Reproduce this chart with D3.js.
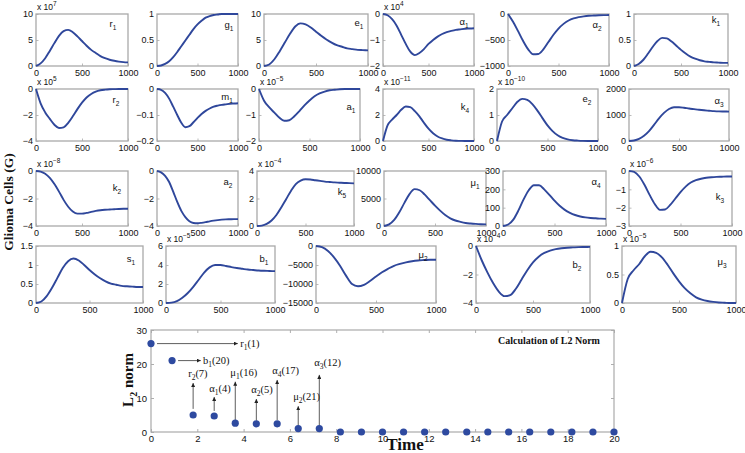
<!DOCTYPE html>
<html><head><meta charset="utf-8">
<script src="https://cdn.jsdelivr.net/npm/d3@7"></script>
<style>
body{margin:0;background:#fff;}
svg{display:block;}
</style></head><body>
<svg id="c" width="745" height="453"></svg>
<script>
// ---------- DATA ----------
const timeSteps = [0,50,100,150,200,250,300,350,400,450,500,550,600,650,700,750,800,850,900,950,1000];
const xTickValues = [0,500,1000];

const r1Vals = [0,0.5,1.5,2.9,4.4,5.8,6.7,6.95,6.5,5.7,4.8,3.9,3.1,2.5,1.9,1.5,1.2,1.0,0.85,0.75,0.7];
const g1Vals = [0,0.01,0.04,0.09,0.17,0.27,0.38,0.49,0.6,0.71,0.8,0.87,0.93,0.96,0.98,0.99,1,1,1,1,1];
const e1Vals = [0,0.3,1.3,2.8,4.5,6.2,7.6,8.2,8.0,7.4,6.6,5.8,5.1,4.5,4.0,3.7,3.4,3.25,3.1,3.05,3.0];
const alpha1Vals = [0,-0.05,-0.2,-0.45,-0.8,-1.15,-1.45,-1.58,-1.5,-1.35,-1.15,-1.0,-0.87,-0.77,-0.7,-0.65,-0.61,-0.59,-0.57,-0.56,-0.55];
const alpha2Vals = [0,-150,-330,-520,-680,-775,-770,-680,-540,-400,-280,-190,-125,-85,-60,-45,-35,-30,-25,-22,-20];
const k1Vals = [0,0.04,0.12,0.24,0.37,0.48,0.54,0.53,0.47,0.39,0.31,0.24,0.18,0.14,0.11,0.09,0.08,0.07,0.065,0.06,0.06];
const r2Vals = [0,-1.1,-1.8,-2.3,-2.75,-3.0,-2.95,-2.6,-2.1,-1.55,-1.05,-0.65,-0.38,-0.2,-0.1,-0.05,-0.02,-0.01,0,0,0];
const m1Vals = [0,-0.003,-0.015,-0.037,-0.068,-0.1,-0.13,-0.147,-0.143,-0.128,-0.111,-0.096,-0.084,-0.075,-0.068,-0.064,-0.061,-0.059,-0.057,-0.056,-0.055];
const a1Vals = [0,-0.45,-0.7,-0.9,-1.1,-1.22,-1.2,-1.05,-0.85,-0.63,-0.44,-0.28,-0.17,-0.1,-0.05,-0.03,-0.01,0,0,0,0];
const k4Vals = [0,1.2,1.65,2.0,2.4,2.65,2.6,2.3,1.9,1.4,0.95,0.6,0.35,0.2,0.1,0.05,0.02,0.01,0,0,0];
const e2Vals = [0,0.75,1.0,1.25,1.5,1.62,1.58,1.42,1.17,0.88,0.6,0.38,0.22,0.12,0.06,0.03,0.015,0.005,0,0,0];
const alpha3Vals = [0,20,80,200,380,620,870,1080,1230,1300,1300,1280,1250,1225,1200,1180,1165,1150,1140,1135,1130];
const k2Vals = [0,-0.05,-0.2,-0.5,-0.95,-1.5,-2.1,-2.6,-2.95,-3.1,-3.1,-3.05,-2.97,-2.9,-2.85,-2.82,-2.8,-2.78,-2.76,-2.75,-2.75];
const a2Vals = [0,-0.1,-0.35,-0.8,-1.5,-2.25,-2.9,-3.35,-3.65,-3.78,-3.8,-3.77,-3.72,-3.66,-3.61,-3.57,-3.54,-3.52,-3.51,-3.5,-3.5];
const k5Vals = [0,0.03,0.15,0.4,0.8,1.35,1.95,2.55,3.05,3.3,3.4,3.38,3.33,3.28,3.23,3.2,3.17,3.15,3.13,3.12,3.1];
const mu1Vals = [0,300,1100,2500,4200,5800,6700,6500,5700,4700,3700,2800,2000,1400,1000,750,550,450,380,330,300];
const alpha4Vals = [0,8,35,85,145,195,222,222,200,170,138,110,88,72,60,52,47,44,42,40,39];
const k3Vals = [0,-0.05,-0.3,-0.75,-1.3,-1.8,-2.12,-2.1,-1.85,-1.5,-1.15,-0.85,-0.63,-0.5,-0.42,-0.37,-0.34,-0.32,-0.31,-0.3,-0.3];
const s1Vals = [0,0.04,0.18,0.4,0.66,0.92,1.1,1.17,1.12,1.0,0.87,0.75,0.65,0.57,0.51,0.48,0.45,0.44,0.43,0.42,0.42];
const b1Vals = [0,0.04,0.2,0.55,1.05,1.7,2.45,3.2,3.75,4.0,4.0,3.9,3.78,3.68,3.6,3.52,3.47,3.42,3.39,3.37,3.35];
const mu2Vals = [0,-300,-1300,-3000,-5200,-7800,-10000,-10600,-10200,-9200,-8000,-6900,-6000,-5200,-4700,-4300,-4000,-3800,-3700,-3620,-3600];
const b2Vals = [0,-1.0,-1.85,-2.6,-3.2,-3.52,-3.45,-3.0,-2.35,-1.7,-1.15,-0.75,-0.48,-0.32,-0.22,-0.16,-0.12,-0.1,-0.08,-0.07,-0.06];
const mu3Vals = [0,0.42,0.57,0.68,0.82,0.9,0.88,0.8,0.67,0.52,0.38,0.26,0.17,0.1,0.06,0.035,0.02,0.01,0.005,0,0];

// panel names: [base, subscript]
const panelNames = [["r","1"],["g","1"],["e","1"],["α","1"],["α","2"],["k","1"],
  ["r","2"],["m","1"],["a","1"],["k","4"],["e","2"],["α","3"],
  ["k","2"],["a","2"],["k","5"],["μ","1"],["α","4"],["k","3"],
  ["s","1"],["b","1"],["μ","2"],["b","2"],["μ","3"]];
const panelSeries = [r1Vals,g1Vals,e1Vals,alpha1Vals,alpha2Vals,k1Vals,
  r2Vals,m1Vals,a1Vals,k4Vals,e2Vals,alpha3Vals,
  k2Vals,a2Vals,k5Vals,mu1Vals,alpha4Vals,k3Vals,
  s1Vals,b1Vals,mu2Vals,b2Vals,mu3Vals];
const panelYTicks = [[0,5,10],[0,0.5,1],[0,5,10],[-2,-1,0],[-1000,-500,0],[0,0.5,1],
  [-4,-2,0],[-0.2,-0.1,0],[-2,-1,0],[0,2,4],[0,1,2],[0,1000,2000],
  [-4,-2,0],[-4,-2,0],[0,2,4],[0,5000,10000],[0,100,200,300],[-3,-2,-1,0],
  [0,0.5,1,1.5],[0,2,4,6],[-15000,-10000,-5000,0],[-4,-2,0],[0,0.5,1]];
const panelExponents = ["7",null,null,"4",null,null,
  "5",null,"-5","-11","-10",null,
  "-8",null,"-4",null,null,"-6",
  null,"-5",null,"-4","-5"];

// L2 norm chart
const l2Time = [0,0.91,1.82,2.73,3.64,4.55,5.45,6.36,7.27,8.18,9.09,10,10.91,11.82,12.73,13.64,14.55,15.45,16.36,17.27,18.18,19.09,20];
const l2Values = [26,21,5,4.7,2.6,2.4,2.4,1.0,1.0,0,0,0,0,0,0,0,0,0,0,0,0,0,0];
const l2XTicks = [0,2,4,6,8,10,12,14,16,18,20];
const l2YTicks = [0,10,20,30];
// annotations: [base, sub, rank]
const annLabels = [["r","1","(1)"],["b","1","(20)"],["r","2","(7)"],["α","1","(4)"],["μ","1","(16)"],
  ["α","2","(5)"],["α","4","(17)"],["μ","2","(21)"],["α","3","(12)"]];
// arrow geometry in data units: [x0,y0,x1,y1]
const annArrows = [[0.26,26,3.75,26],[1.17,21,2.15,21],[1.82,6.8,1.82,14.4],[2.73,6.2,2.73,10.3],
  [3.64,3.0,3.64,14.8],[4.55,3.3,4.55,9.7],[5.45,3.5,5.45,15.3],[6.36,1.5,6.36,7.6],[7.27,1.8,7.27,16.8]];
const annTextPos = [[3.85,26],[2.25,21],[1.82,16.2],[2.73,11.8],[3.64,16.6],[4.55,11.5],[5.45,17.0],[6.36,9.4],[7.27,19.4]];

// ---------- LAYOUT ----------
const rowsY = [[14,66],[89,141],[171,226],[246,303]];
const panelBoxesX = [[36,128],[157,238],[264,368],[383,474],[508,609],[634,728],
  [36,128],[157,238],[259,360],[383,474],[497,598],[629,729],
  [36,128],[157,238],[257,354],[384,486],[503,606],[629,732],
  [36,143],[166,275],[316,436],[476,590],[622,736]];
const panelRow = [0,0,0,0,0,0,1,1,1,1,1,1,2,2,2,2,2,2,3,3,3,3,3];
const labelDy = [13,14,12,11,14,9, 14,11,21,21,13,15, 20,14,24,15,14,29, 16,16,12,22,19];
const labelDx = [-15,-9,-9,-10,-12,-12, -12,-11,-9,-9,-11,-10, -11,-10,-12,-11,-10,-12, -12,-11,-13,-13,-14];

const lineColor = "#2f479b";
const frameColor = "#a9a9a9";
const sans = "'Liberation Sans', Arial, Helvetica, sans-serif";
const serif = "'Liberation Serif', 'Times New Roman', serif";

const svg = d3.select("#c");
svg.append("rect").attr("width",745).attr("height",453).attr("fill","#fff");

function fmt(v){ return String(v).replace("-","−"); }

panelSeries.forEach((vals,i)=>{
  const [x0,x1] = panelBoxesX[i];
  const [y0,y1] = rowsY[panelRow[i]];
  const yt = panelYTicks[i];
  const g = svg.append("g");
  const x = d3.scaleLinear().domain([0,1000]).range([x0,x1]);
  const y = d3.scaleLinear().domain([yt[0], yt[yt.length-1]]).range([y1,y0]);

  const xa = g.append("g").attr("transform",`translate(0,${y1})`)
    .call(d3.axisBottom(x).tickValues(xTickValues).tickSizeInner(-2.5).tickSizeOuter(0).tickPadding(3.5).tickFormat(d3.format("d")));
  const ya = g.append("g").attr("transform",`translate(${x0},0)`)
    .call(d3.axisLeft(y).tickValues(yt).tickSizeInner(-2.5).tickSizeOuter(0).tickPadding(3).tickFormat(fmt));
  [xa,ya].forEach(a=>{
    a.select(".domain").remove();
    a.selectAll(".tick line").attr("stroke",frameColor).attr("stroke-width",0.8);
    a.selectAll(".tick text").attr("font-family",sans).attr("font-size",9).attr("fill","#111");
  });
  g.append("rect").attr("x",x0).attr("y",y0).attr("width",x1-x0).attr("height",y1-y0)
    .attr("fill","none").attr("stroke",frameColor).attr("stroke-width",1.3);

  g.append("path").datum(timeSteps.map((t,j)=>[t,vals[j]]))
    .attr("d", d3.line().x(d=>x(d[0])).y(d=>y(d[1])).curve(d3.curveMonotoneX))
    .attr("fill","none").attr("stroke",lineColor).attr("stroke-width",1.9);

  // label
  const [b,s] = panelNames[i];
  const lt = g.append("text").attr("x",x1+labelDx[i]).attr("y",y0+labelDy[i])
    .attr("font-family",sans).attr("font-size",9.5).attr("fill","#111").attr("text-anchor","middle");
  lt.append("tspan").text(b);
  lt.append("tspan").attr("font-size",6.5).attr("dy",3).text(s);

  // exponent
  if (panelExponents[i]) {
    const et = g.append("text").attr("x",x0+1).attr("y",y0-4)
      .attr("font-family",sans).attr("font-size",8.5).attr("fill","#111");
    et.append("tspan").text("x 10");
    et.append("tspan").attr("font-size",6.5).attr("dy",-4).text(fmt(panelExponents[i]));
  }
});

// Glioma label
svg.append("text").attr("transform","translate(13,202) rotate(-90)")
  .attr("text-anchor","middle").attr("font-family",serif).attr("font-weight","bold")
  .attr("font-size",13.5).attr("fill","#111").text("Glioma Cells (G)");

// ---------- L2 chart ----------
const LX0=151, LX1=614, LY0=330, LY1=432;
const lx = d3.scaleLinear().domain([0,20]).range([LX0,LX1]);
const ly = d3.scaleLinear().domain([0,30]).range([LY1,LY0]);
const lg = svg.append("g");
const lxa = lg.append("g").attr("transform",`translate(0,${LY1})`)
  .call(d3.axisBottom(lx).tickValues(l2XTicks).tickSizeInner(-3).tickSizeOuter(0).tickPadding(3.5));
const lya = lg.append("g").attr("transform",`translate(${LX0},0)`)
  .call(d3.axisLeft(ly).tickValues(l2YTicks).tickSizeInner(-3).tickSizeOuter(0).tickPadding(4));
const lxt = lg.append("g").attr("transform",`translate(0,${LY0})`)
  .call(d3.axisTop(lx).tickValues(l2XTicks).tickSizeInner(-3).tickSizeOuter(0).tickFormat(""));
const lyr = lg.append("g").attr("transform",`translate(${LX1},0)`)
  .call(d3.axisRight(ly).tickValues(l2YTicks).tickSizeInner(-3).tickSizeOuter(0).tickFormat(""));
[lxa,lya,lxt,lyr].forEach(a=>{
  a.select(".domain").remove();
  a.selectAll(".tick line").attr("stroke","#999").attr("stroke-width",0.8);
  a.selectAll(".tick text").attr("font-family",sans).attr("font-size",9.5).attr("fill","#111");
});
lg.append("rect").attr("x",LX0).attr("y",LY0).attr("width",LX1-LX0).attr("height",LY1-LY0)
  .attr("fill","none").attr("stroke","#aaa").attr("stroke-width",1.2);

// arrows
const defs = svg.append("defs");
defs.append("marker").attr("id","ah").attr("viewBox","0 0 10 10").attr("refX",10).attr("refY",5)
  .attr("markerWidth",5).attr("markerHeight",5).attr("orient","auto-start-reverse")
  .append("path").attr("d","M0,0 L10,5 L0,10 z").attr("fill","#222");

annArrows.forEach((a,i)=>{
  lg.append("line").attr("x1",lx(a[0])).attr("y1",ly(a[1])).attr("x2",lx(a[2])).attr("y2",ly(a[3]))
    .attr("stroke","#333").attr("stroke-width",0.8).attr("marker-end","url(#ah)");
  const [b,s,r] = annLabels[i];
  const horiz = a[1]===a[3];
  const t = lg.append("text")
    .attr("x", lx(annTextPos[i][0]) + (horiz?0:-5))
    .attr("y", ly(annTextPos[i][1]) + (horiz?3.5:0))
    .attr("font-family",serif).attr("font-size",10.5).attr("fill","#111");
  t.append("tspan").text(b);
  t.append("tspan").attr("font-size",7.5).attr("dy",3).text(s);
  t.append("tspan").attr("dy",-3).text(r);
});

lg.selectAll("circle.pt").data(l2Time.map((t,i)=>[t,l2Values[i]])).enter().append("circle")
  .attr("cx",d=>lx(d[0])).attr("cy",d=>ly(d[1])).attr("r",3.6).attr("fill","#2e4aa0");

lg.append("text").attr("x",498).attr("y",344).attr("font-family",serif).attr("font-weight","bold")
  .attr("font-size",10).attr("fill","#111").text("Calculation of L2 Norm");

lg.append("text").attr("x",405).attr("y",450).attr("text-anchor","middle").attr("font-family",serif)
  .attr("font-weight","bold").attr("font-size",17).attr("fill","#111").text("Time");

const yl = lg.append("text").attr("transform","translate(133,380) rotate(-90)").attr("text-anchor","middle")
  .attr("font-family",serif).attr("font-weight","bold").attr("font-size",15).attr("fill","#111");
yl.append("tspan").text("L");
yl.append("tspan").attr("font-size",10).attr("dy",4).text("2");
yl.append("tspan").attr("dy",-4).text(" norm");
</script>
</body></html>
